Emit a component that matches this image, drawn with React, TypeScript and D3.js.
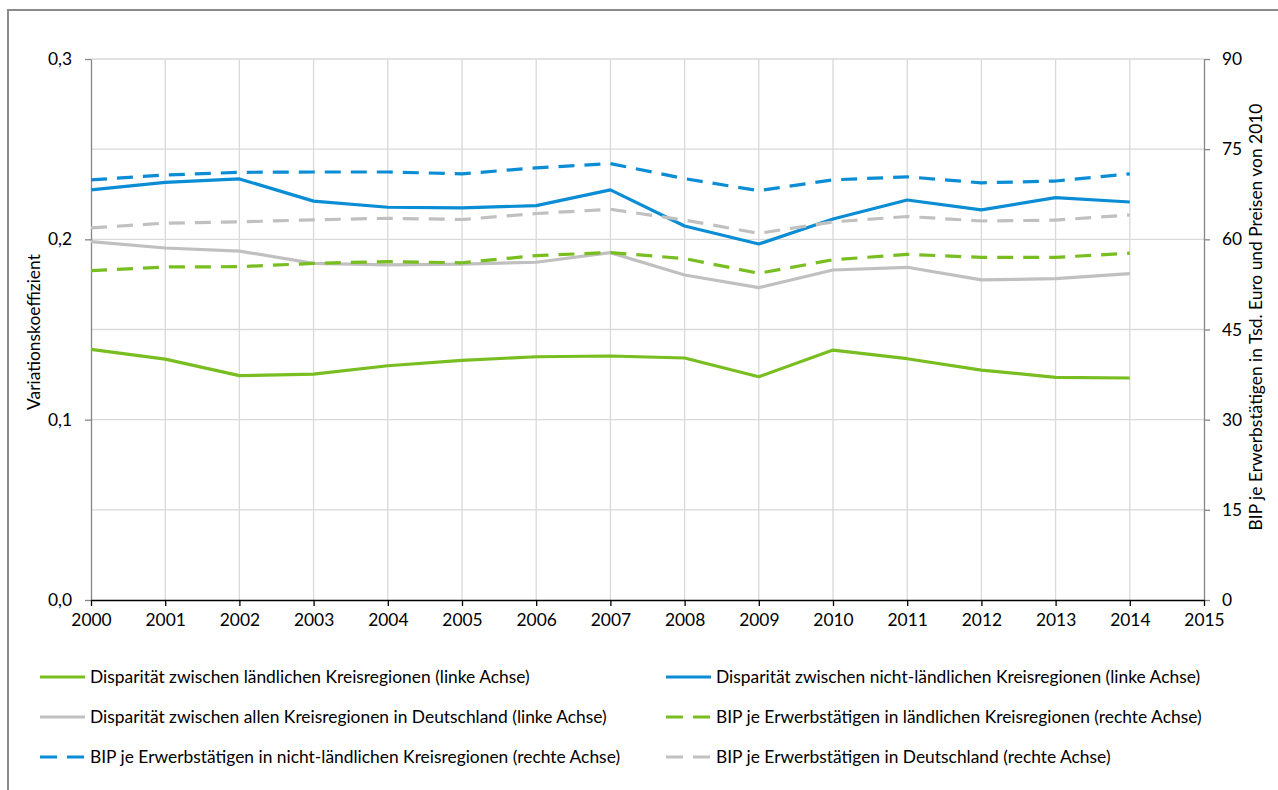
import React, { useRef, useEffect } from 'react';
import * as d3 from 'd3';

const years = [2000, 2001, 2002, 2003, 2004, 2005, 2006, 2007, 2008, 2009, 2010, 2011, 2012, 2013, 2014];
const yearTicks = [2000, 2001, 2002, 2003, 2004, 2005, 2006, 2007, 2008, 2009, 2010, 2011, 2012, 2013, 2014, 2015];
const leftTicks = [0, 0.1, 0.2, 0.3];
const rightTicks = [0, 15, 30, 45, 60, 75, 90];

// Variationskoeffizient (linke Achse)
const dispLaendlich = [0.139, 0.1336, 0.1244, 0.1253, 0.1299, 0.1329, 0.1349, 0.1353, 0.1342, 0.1238, 0.1386, 0.1338, 0.1275, 0.1235, 0.1231];
const dispNichtLaendlich = [0.2274, 0.2316, 0.2335, 0.2212, 0.2178, 0.2174, 0.2187, 0.2274, 0.2074, 0.1974, 0.2113, 0.2218, 0.2163, 0.2231, 0.2207];
const dispAlle = [0.1987, 0.1952, 0.1935, 0.1867, 0.1858, 0.1863, 0.1873, 0.1926, 0.1802, 0.1732, 0.183, 0.1845, 0.1775, 0.1782, 0.181];

// BIP je Erwerbstätigen (rechte Achse)
const bipLaendlich = [54.8, 55.4, 55.45, 56.0, 56.3, 56.1, 57.3, 57.8, 56.8, 54.35, 56.6, 57.5, 57.0, 57.0, 57.7];
const bipNichtLaendlich = [69.9, 70.7, 71.15, 71.2, 71.2, 70.9, 71.9, 72.6, 70.1, 68.1, 69.9, 70.4, 69.4, 69.7, 70.9];
const bipDeutschland = [61.9, 62.7, 62.9, 63.25, 63.5, 63.3, 64.3, 65.0, 63.2, 61.0, 62.9, 63.8, 63.05, 63.2, 64.05];

const GREEN = '#78be20';
const BLUE = '#0a8dd4';
const GRAY = '#c0c0c0';

const series = [
  { label: 'Disparität zwischen ländlichen Kreisregionen (linke Achse)', values: dispLaendlich, axis: 'left', color: GREEN, dashed: false },
  { label: 'Disparität zwischen nicht-ländlichen Kreisregionen (linke Achse)', values: dispNichtLaendlich, axis: 'left', color: BLUE, dashed: false },
  { label: 'Disparität zwischen allen Kreisregionen in Deutschland (linke Achse)', values: dispAlle, axis: 'left', color: GRAY, dashed: false },
  { label: 'BIP je Erwerbstätigen in ländlichen Kreisregionen (rechte Achse)', values: bipLaendlich, axis: 'right', color: GREEN, dashed: true },
  { label: 'BIP je Erwerbstätigen in nicht-ländlichen Kreisregionen (rechte Achse)', values: bipNichtLaendlich, axis: 'right', color: BLUE, dashed: true },
  { label: 'BIP je Erwerbstätigen in Deutschland (rechte Achse)', values: bipDeutschland, axis: 'right', color: GRAY, dashed: true },
];

const FONT = 'Lato, "Open Sans", sans-serif';
const FS = 17.4;

const Chart = () => {
  const svgRef = useRef<SVGSVGElement>(null);

  useEffect(() => {
    const width = 1278;
    const height = 790;
    const svg = d3.select(svgRef.current).attr('width', width).attr('height', height);
    svg.selectAll('*').remove();

    const x = d3.scaleLinear().domain([2000, 2015]).range([91, 1204]);
    const yL = d3.scaleLinear().domain([0, 0.3]).range([600, 59]);
    const yR = d3.scaleLinear().domain([0, 90]).range([600, 59]);

    // Rahmen
    svg.append('path')
      .attr('d', 'M8,800 L8,10 L1290,10')
      .attr('fill', 'none')
      .attr('stroke', '#8a8a8a')
      .attr('stroke-width', 2);

    // Gitterlinien
    const grid = svg.append('g');
    grid.selectAll('.hgrid')
      .data(d3.range(1, 7).map(i => i * 0.05))
      .enter()
      .append('line')
      .attr('x1', x(2000)).attr('x2', x(2015))
      .attr('y1', d => yL(d)).attr('y2', d => yL(d))
      .attr('stroke', '#d9d9d9').attr('stroke-width', 1.3);
    grid.selectAll('.vgrid')
      .data(yearTicks.slice(1, -1))
      .enter()
      .append('line')
      .attr('x1', d => x(d)).attr('x2', d => x(d))
      .attr('y1', yL(0)).attr('y2', yL(0.3))
      .attr('stroke', '#d9d9d9').attr('stroke-width', 1.3);

    const styleAxis = (g, lineColor) => {
      g.selectAll('.domain').attr('stroke', lineColor).attr('stroke-width', 1.3);
      g.selectAll('.tick line').attr('stroke', lineColor).attr('stroke-width', 1.3);
      g.selectAll('text').attr('font-family', FONT).attr('font-size', FS).attr('fill', '#000');
    };

    const fmt = d3.format('.1f');
    const gL = svg.append('g').attr('transform', `translate(${x(2000)},0)`)
      .call(d3.axisLeft(yL).tickValues(leftTicks).tickSize(6).tickSizeOuter(0).tickPadding(13)
        .tickFormat(d => fmt(d).replace('.', ',')));
    styleAxis(gL, '#868686');

    const gR = svg.append('g').attr('transform', `translate(${x(2015)},0)`)
      .call(d3.axisRight(yR).tickValues(rightTicks).tickSize(6).tickSizeOuter(0).tickPadding(12));
    styleAxis(gR, '#868686');

    const gB = svg.append('g').attr('transform', `translate(0,${yL(0)})`)
      .call(d3.axisBottom(x).tickValues(yearTicks).tickSize(6).tickSizeOuter(0).tickPadding(8)
        .tickFormat(d3.format('d')));
    styleAxis(gB, '#000');

    // Achsentitel
    svg.append('text')
      .attr('transform', 'translate(40,332) rotate(-90)')
      .attr('text-anchor', 'middle')
      .attr('font-family', FONT).attr('font-size', FS)
      .text('Variationskoeffizient');
    svg.append('text')
      .attr('transform', 'translate(1262,317) rotate(-90)')
      .attr('text-anchor', 'middle')
      .attr('font-family', FONT).attr('font-size', FS)
      .text('BIP je Erwerbstätigen in Tsd. Euro und Preisen von 2010');

    // Linien
    series.forEach(s => {
      const yScale = s.axis === 'left' ? yL : yR;
      const line = d3.line<number>()
        .x((d, i) => x(years[i]))
        .y(d => yScale(d));
      svg.append('path')
        .datum(s.values)
        .attr('d', line)
        .attr('fill', 'none')
        .attr('stroke', s.color)
        .attr('stroke-width', 3.2)
        .attr('stroke-linejoin', 'round')
        .attr('stroke-dasharray', s.dashed ? '16 10' : null);
    });

    // Legende
    const legend = svg.append('g');
    const colX = [40, 666];
    const rowY = [677, 717, 757];
    series.forEach((s, i) => {
      const lx = colX[i % 2];
      const ly = rowY[Math.floor(i / 2)];
      const g = legend.append('g');
      g.append('line')
        .attr('x1', lx).attr('x2', lx + 45)
        .attr('y1', ly).attr('y2', ly)
        .attr('stroke', s.color).attr('stroke-width', 3.2)
        .attr('stroke-dasharray', s.dashed ? '17 10' : null);
      g.append('text')
        .attr('x', lx + 50).attr('y', ly)
        .attr('dy', '0.35em')
        .attr('font-family', FONT).attr('font-size', FS)
        .text(s.label);
    });
  }, []);

  return <svg ref={svgRef} style={{ position: 'absolute', left: 0, top: 0, display: 'block' }}></svg>;
};

export default function App() {
  return <Chart />;
}
